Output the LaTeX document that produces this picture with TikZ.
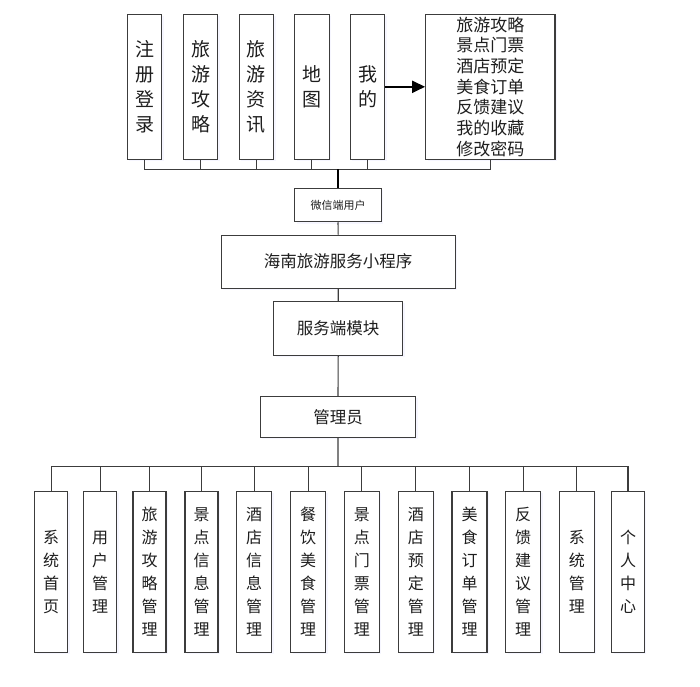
\documentclass[tikz,border=0pt]{standalone}
\usepackage{fontspec}
\setmainfont{Noto Sans CJK SC}
\usepackage{tikz}
\usetikzlibrary{arrows.meta,shadows}
\definecolor{edge}{HTML}{3C3C3C}
\definecolor{ink}{HTML}{1E1E1E}
\tikzset{
cell/.style={draw=edge,line width=1.1pt,fill=white,inner sep=0pt,text=ink,
  drop shadow={shadow xshift=2pt,shadow yshift=-2pt,fill=blue!8,opacity=.45}},
upbox/.style={cell,minimum width=34.5pt,minimum height=145pt,align=center,font=\fontsize{19}{25}\selectfont},
colbox/.style={cell,minimum width=34pt,minimum height=161pt,align=center,font=\fontsize{16}{23}\selectfont},
wire/.style={draw=edge,line width=1.1pt}
}

\begin{document}
\begin{tikzpicture}[x=1pt,y=-1pt]
\useasboundingbox (0,0) rectangle (700,686);
% client side
\node[upbox](reg)at(144.5,86.8){注\\册\\登\\录};
\node[upbox](guide)at(200.5,86.8){旅\\游\\攻\\略};
\node[upbox](news)at(256.3,86.8){旅\\游\\资\\讯};
\node[upbox](map)at(311.8,86.8){地\\图};
\node[upbox](mine)at(367.5,86.8){我\\的};
\node[cell,minimum width=129.3pt,minimum height=145pt,align=center,font=\fontsize{17}{20.7}\selectfont](menu)at(490.3,86.8)
{旅游攻略\\景点门票\\酒店预定\\美食订单\\反馈建议\\我的收藏\\修改密码};
\node[cell,minimum width=86.6pt,minimum height=33.4pt,font=\fontsize{11}{13}\selectfont](wx)at(338,205){微信端用户};
\node[cell,minimum width=233.7pt,minimum height=53.3pt,font=\fontsize{16.5}{20}\selectfont](app)at(338.2,261.7){海南旅游服务小程序};
\node[cell,minimum width=129pt,minimum height=53.7pt,font=\fontsize{16.5}{20}\selectfont](srv)at(338.2,328.2){服务端模块};
\node[cell,minimum width=155.4pt,minimum height=41pt,font=\fontsize{16.5}{20}\selectfont](admin)at(338,416.8){管理员};
% admin side
\node[colbox,minimum width=33pt](m1)at(51.2,571.8){系\\统\\首\\页};
\node[colbox,minimum width=33pt](m2)at(100.2,571.8){用\\户\\管\\理};
\node[colbox,minimum width=33pt](m3)at(149.5,571.8){旅\\游\\攻\\略\\管\\理};
\node[colbox,minimum width=33pt](m4)at(201.5,571.8){景\\点\\信\\息\\管\\理};
\node[colbox,minimum width=35pt](m5)at(254.2,571.8){酒\\店\\信\\息\\管\\理};
\node[colbox,minimum width=35pt](m6)at(308.2,571.8){餐\\饮\\美\\食\\管\\理};
\node[colbox,minimum width=35pt](m7)at(361.8,571.8){景\\点\\门\\票\\管\\理};
\node[colbox,minimum width=35pt](m8)at(415.8,571.8){酒\\店\\预\\定\\管\\理};
\node[colbox,minimum width=35pt](m9)at(469.5,571.8){美\\食\\订\\单\\管\\理};
\node[colbox,minimum width=35pt](m10)at(523.2,571.8){反\\馈\\建\\议\\管\\理};
\node[colbox,minimum width=35pt](m11)at(576.8,571.8){系\\统\\管\\理};
\node[colbox,minimum width=32.6pt](m12)at(628,571.8){个\\人\\中\\心};
\coordinate(tb)at(0,169.3);
\coordinate(bb)at(0,466.7);
\draw[wire](reg.south)--(reg.south|-tb)--(menu.south|-tb)--(menu.south)
(guide.south)--(guide.south|-tb)
(news.south)--(news.south|-tb)
(map.south)--(map.south|-tb)
(mine.south)--(mine.south|-tb);
\draw[line width=1.7pt,black](wx.north|-tb)--(wx.north);
\draw[line width=2pt,-{Triangle[length=13pt,width=12pt]}](mine.east)--(menu.west);
\draw[wire](wx.south)--(app.north)
(app.south)--(srv.north)
(srv.south)--(admin.north)
(admin.south)--(admin.south|-bb);
\draw[wire](m1.north)--(m1.north|-bb)--(m12.north|-bb)--(m12.north)
(m2.north)--(m2.north|-bb)
(m3.north)--(m3.north|-bb)
(m4.north)--(m4.north|-bb)
(m5.north)--(m5.north|-bb)
(m6.north)--(m6.north|-bb)
(m7.north)--(m7.north|-bb)
(m8.north)--(m8.north|-bb)
(m9.north)--(m9.north|-bb)
(m10.north)--(m10.north|-bb)
(m11.north)--(m11.north|-bb);
\end{tikzpicture}
\end{document}
